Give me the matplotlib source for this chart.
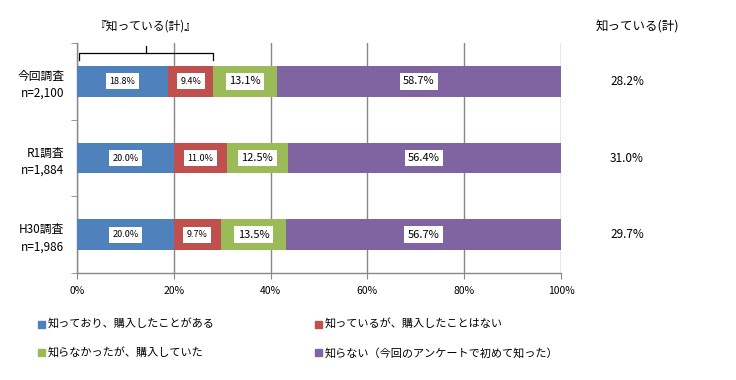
import numpy as np
import matplotlib.pyplot as plt
from matplotlib.patches import Patch
import matplotlib.transforms as mtransforms

plt.rcParams['font.family'] = ['Noto Sans CJK JP', 'DejaVu Sans']

# data
surveys = ["今回調査\nn=2,100", "R1調査\nn=1,884", "H30調査\nn=1,986"]
series_names = ["知っており、購入したことがある", "知っているが、購入したことはない",
                "知らなかったが、購入していた", "知らない（今回のアンケートで初めて知った）"]
bought_known = [18.8, 20.0, 20.0]
known_not_bought = [9.4, 11.0, 9.7]
bought_unknown = [13.1, 12.5, 13.5]
unknown = [58.7, 56.4, 56.7]
known_total = [28.2, 31.0, 29.7]

colors = ["#4F81BD", "#C0504D", "#9BBB59", "#8064A2"]
label_sizes = [6.5, 6.5, 8, 8]

fig = plt.figure(figsize=(7.36, 3.8), dpi=100)
ax = fig.add_axes([77/736, 1-273/380, 484/736, 230/380])

y = np.arange(len(surveys))
left = np.zeros(len(surveys))
for vals, col, name, fs in zip([bought_known, known_not_bought, bought_unknown, unknown],
                               colors, series_names, label_sizes):
    vals = np.array(vals)
    ax.barh(y, vals, left=left, height=0.4, color=col, label=name, zorder=3)
    for yi, l, v in zip(y, left, vals):
        ax.text(l + v/2, yi, f"{v:.1f}%", ha='center', va='center', fontsize=fs,
                color='black', zorder=4,
                bbox=dict(facecolor='white', edgecolor='none', pad=2.5))
    left += vals

ax.set_xlim(0, 100)
ax.set_ylim(2.5, -0.5)
ax.set_xticks(np.arange(0, 101, 20))
ax.set_xticklabels([f"{v}%" for v in range(0, 101, 20)], fontsize=7.5)
ax.set_yticks(y)
ax.set_yticklabels(surveys, fontsize=8.5, linespacing=1.4)
ax.set_yticks([-0.5, 0.5, 1.5, 2.5], minor=True)
ax.tick_params(axis='y', which='major', length=0, pad=9)
ax.tick_params(axis='y', which='minor', length=4, color='#888888')
ax.tick_params(axis='x', length=4, color='#888888', pad=5)
ax.grid(axis='x', color='#888888', linewidth=1, zorder=0)
for s in ['top', 'right']:
    ax.spines[s].set_visible(False)
for s in ['left', 'bottom']:
    ax.spines[s].set_color('#888888')
    ax.spines[s].set_linewidth(1)

# bracket for 知っている(計)
tr = mtransforms.blended_transform_factory(ax.transData, ax.transAxes)
bx0, bx1 = 0.4, known_total[0]
ax.plot([bx0, bx0, bx1, bx1], [0.926, 0.957, 0.957, 0.926], color='black',
        lw=0.9, transform=tr, clip_on=False)
bm = (bx0 + bx1) / 2
ax.plot([bm, bm], [0.957, 0.985], color='black', lw=0.9, transform=tr, clip_on=False)
ax.text(bm, 1.075, "『知っている(計)』", transform=tr, ha='center', va='center', fontsize=8.5)

# right column
fig.text(637/736, 1-27/380, "知っている(計)", ha='center', va='center', fontsize=9)
for yi, v in zip(y, known_total):
    yd = ax.transData.transform((0, yi))[1]
    yf = fig.transFigure.inverted().transform((0, yd))[1]
    fig.text(627/736, yf, f"{v:.1f}%", ha='center', va='center', fontsize=8.5)

handles = [Patch(color=c) for c in colors]
order = [0, 2, 1, 3]
fig.legend([handles[i] for i in order], [series_names[i] for i in order],
           loc='upper left', bbox_to_anchor=(28/736, 1-309/380), ncol=2,
           frameon=False, fontsize=8, handlelength=0.6, handleheight=0.6,
           handletextpad=0.3, columnspacing=9.0, labelspacing=1.6)

fig.savefig("out.png", dpi=100)
